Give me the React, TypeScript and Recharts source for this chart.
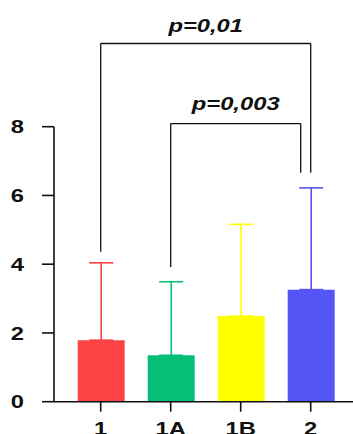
import { BarChart, Bar, XAxis, YAxis, ErrorBar, ReferenceLine } from 'recharts';

// groupes et valeurs
const categories = ['1', '1A', '1B', '2'];
const means = [1.79, 1.35, 2.49, 3.26];
const errUp = [2.25, 2.14, 2.67, 2.96];
const colors = ['#FA4343', '#07BE76', '#FFFF00', '#5555F6'];
const yTicks = [0, 2, 4, 6, 8];

// crochets de significativité (positions en unités de catégorie / valeur)
const brFrom = [0, 1];
const brTo = [3, 2.857];
const brTop = [10.42, 8.09];
const brLeftEnd = [4.36, 3.92];
const brRightEnd = [6.66, 6.66];
const brLabels = ['p=0,01', 'p=0,003'];

const data = categories.map((name, i) => {
  const row: any = { name, pos: i };
  categories.forEach((_, j) => {
    row['v' + j] = i === j ? means[i] : null;
    row['e' + j] = i === j ? [0, errUp[i]] : null;
  });
  return row;
});

const FONT = '"Liberation Sans", Arial, sans-serif';

function Stretched({ x, y, anchor, children, italic }: any) {
  return (
    <g transform={`translate(${x},${y}) scale(1.25,1)`}>
      <text x={0} y={0} textAnchor={anchor} fontFamily={FONT} fontWeight="bold"
        fontStyle={italic ? 'italic' : 'normal'} fontSize={19} fill="#111">
        {children}
      </text>
    </g>
  );
}

const YTick = ({ x, y, payload }: any) => (
  <Stretched x={x} y={y + 6.6} anchor="end">{payload.value}</Stretched>
);

const XTick = ({ x, y, payload }: any) => (
  <Stretched x={x} y={y + 17.5} anchor="middle">{payload.value}</Stretched>
);

const pLabel = (text: string, off: number) => (props: any) => {
  const vb = props.viewBox || {};
  return (
    <Stretched x={vb.x + vb.width / 2} y={vb.y - off} anchor="middle" italic>
      {text}
    </Stretched>
  );
};

const pad = { left: 11.7, right: 7.3 };
const axisStroke = { stroke: '#111', strokeWidth: 1.6 };

export default function App() {
  return (
    <div style={{ position: 'absolute', left: 0, top: 0 }}>
      <BarChart width={353} height={434} data={data}
        margin={{ top: 126.7, right: 0, bottom: 2.3, left: 0 }}>
        <XAxis dataKey="name" padding={pad} tickSize={10} tickMargin={6}
          axisLine={axisStroke} tickLine={axisStroke} tick={<XTick />} height={30} interval={0} />
        <XAxis xAxisId="num" dataKey="pos" type="number" domain={[-0.5, 3.5]}
          allowDataOverflow padding={pad} hide />
        <YAxis domain={[0, 8]} ticks={yTicks} width={54} tickSize={12} tickMargin={18}
          axisLine={axisStroke} tickLine={axisStroke} tick={<YTick />} interval={0} />
        {categories.map((c, j) => (
          <Bar key={c} dataKey={'v' + j} stackId="a" fill={colors[j]} barSize={47}
            isAnimationActive={false}>
            <ErrorBar dataKey={'e' + j} width={12} stroke={colors[j]} strokeWidth={1.6}
              direction="y" isAnimationActive={false} />
          </Bar>
        ))}
        {brLabels.map((lab, k) => [
          <ReferenceLine key={'t' + k} xAxisId="num" ifOverflow="visible"
            segment={[{ x: brFrom[k], y: brTop[k] }, { x: brTo[k], y: brTop[k] }]}
            stroke="#111" strokeWidth={1.3}
            label={pLabel(lab, k === 0 ? 11.6 : 13.3)} />,
          <ReferenceLine key={'l' + k} xAxisId="num" ifOverflow="visible"
            segment={[{ x: brFrom[k], y: brTop[k] }, { x: brFrom[k], y: brLeftEnd[k] }]}
            stroke="#111" strokeWidth={1.3} />,
          <ReferenceLine key={'r' + k} xAxisId="num" ifOverflow="visible"
            segment={[{ x: brTo[k], y: brTop[k] }, { x: brTo[k], y: brRightEnd[k] }]}
            stroke="#111" strokeWidth={1.3} />,
        ])}
      </BarChart>
    </div>
  );
}
